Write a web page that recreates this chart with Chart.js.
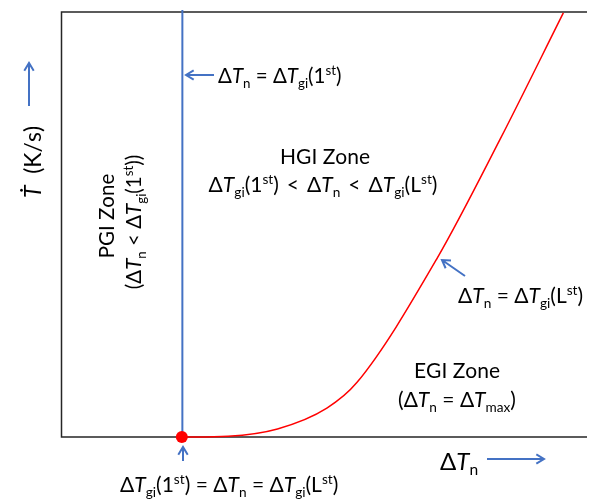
<!DOCTYPE html>
<html>
<head>
<meta charset="utf-8">
<script src="https://cdn.jsdelivr.net/npm/chart.js@4.4.1/dist/chart.umd.min.js"></script>
<style>
  body { margin: 0; background: #fff; }
  canvas { display: block; }
</style>
</head>
<body>
<canvas id="chart" width="593" height="499"></canvas>
<script>
// growth-rate curve (x: undercooling, y: rate, both 0-100)
const curveX = [22.9, 31.7, 41.1, 50.5, 56.2, 71.5, 83.4, 95.5];
const curveY = [0, 0.2, 1.9, 6.8, 12.8, 42.1, 69.9, 99.8];

// vertical threshold line at dT_gi(1st)
const thresholdX = [23.0, 23.0];
const thresholdY = [0, 100.5];

// onset point
const onsetX = [22.9];
const onsetY = [0];

const BLUE = "#4472C4";
const RED = "#FF0000";
const FONT = "Lato";

const toPoints = (xs, ys) => xs.map((x, i) => ({ x: x, y: ys[i] }));

// tiny markup: *italic*, _{sub}, ^{sup}
function parseRich(str) {
    const segs = [];
    let italic = false;
    let i = 0;
    while (i < str.length) {
        const c = str[i];
        if (c === "*") { italic = !italic; i++; continue; }
        if ((c === "_" || c === "^") && str[i + 1] === "{") {
            const end = str.indexOf("}", i);
            segs.push({ t: str.slice(i + 2, end), italic: false, kind: c === "_" ? "sub" : "sup" });
            i = end + 1;
            continue;
        }
        segs.push({ t: c, italic: italic, kind: "n" });
        i++;
    }
    return segs;
}

function segFont(seg, size) {
    const s = seg.kind === "n" ? size : size * 0.65;
    return (seg.italic ? "italic " : "") + s + "px " + FONT;
}

function drawRich(ctx, str, x, y, size, align, angle) {
    const segs = parseRich(str);
    let w = 0;
    segs.forEach((s) => { ctx.font = segFont(s, size); s.w = ctx.measureText(s.t).width; w += s.w; });
    ctx.save();
    ctx.translate(x, y);
    if (angle) ctx.rotate(angle);
    ctx.fillStyle = "#000";
    ctx.textBaseline = "alphabetic";
    ctx.textAlign = "left";
    let cx = align === "center" ? -w / 2 : 0;
    segs.forEach((s) => {
        ctx.font = segFont(s, size);
        let dy = 0;
        if (s.kind === "sub") dy = size * 0.22;
        if (s.kind === "sup") dy = -size * 0.38;
        ctx.fillText(s.t, cx, dy);
        cx += s.w;
    });
    ctx.restore();
}

function arrow(ctx, x1, y1, x2, y2) {
    const a = Math.atan2(y2 - y1, x2 - x1);
    const h = 9;
    ctx.save();
    ctx.strokeStyle = BLUE;
    ctx.lineWidth = 2;
    ctx.beginPath();
    ctx.moveTo(x1, y1);
    ctx.lineTo(x2, y2);
    ctx.moveTo(x2 - h * Math.cos(a - 0.55), y2 - h * Math.sin(a - 0.55));
    ctx.lineTo(x2, y2);
    ctx.lineTo(x2 - h * Math.cos(a + 0.55), y2 - h * Math.sin(a + 0.55));
    ctx.stroke();
    ctx.restore();
}

const framePlugin = {
    id: "frame",
    beforeDatasetsDraw(chart) {
        const { ctx, chartArea: a } = chart;
        ctx.save();
        ctx.strokeStyle = "#262626";
        ctx.lineWidth = 1.5;
        ctx.beginPath();
        ctx.moveTo(a.right, a.top);
        ctx.lineTo(a.left, a.top);
        ctx.lineTo(a.left, a.bottom);
        ctx.lineTo(a.right, a.bottom);
        ctx.stroke();
        ctx.restore();
    },
    afterDraw(chart) {
        const ctx = chart.ctx;
        // arrows
        arrow(ctx, 29, 106, 29, 63);
        arrow(ctx, 214, 75, 186, 75);
        arrow(ctx, 465, 276, 442, 260);
        arrow(ctx, 183, 461, 183, 447);
        arrow(ctx, 487, 459, 544, 459);

        // labels
        drawRich(ctx, "*\u1E6A*  (K/s)", 41, 162, 23, "center", -Math.PI / 2);
        drawRich(ctx, "Δ*T*_{n} = Δ*T*_{gi}(1^{st})", 218, 83, 20.5, "left");
        drawRich(ctx, "HGI Zone", 325, 164, 21, "center");
        drawRich(ctx, "Δ*T*_{gi}(1^{st})\u2009 < \u2009Δ*T*_{n}\u2009 < \u2009Δ*T*_{gi}(L^{st})", 323, 192, 21, "center");
        drawRich(ctx, "PGI Zone", 114, 216, 20.5, "center", -Math.PI / 2);
        drawRich(ctx, "(Δ*T*_{n} < Δ*T*_{gi}(1^{st}))", 141, 222, 20.5, "center", -Math.PI / 2);
        drawRich(ctx, "Δ*T*_{n} = Δ*T*_{gi}(L^{st})", 458, 303, 21, "left");
        drawRich(ctx, "EGI Zone", 457, 378, 21, "center");
        drawRich(ctx, "(Δ*T*_{n} = Δ*T*_{max})", 457, 407, 21, "center");
        drawRich(ctx, "Δ*T*_{gi}(1^{st}) = Δ*T*_{n} = Δ*T*_{gi}(L^{st})", 120, 492, 21, "left");
        drawRich(ctx, "Δ*T*_{n}", 440, 470, 24, "left");
    },
};

new Chart(document.getElementById("chart"), {
    type: "scatter",
    data: {
        datasets: [
            {
                label: "onset",
                data: toPoints(onsetX, onsetY),
                pointRadius: 6,
                pointBackgroundColor: RED,
                pointBorderWidth: 0,
                clip: false,
            },
            {
                label: "threshold",
                data: toPoints(thresholdX, thresholdY),
                showLine: true,
                borderColor: BLUE,
                borderWidth: 2,
                pointRadius: 0,
                clip: false,
            },
            {
                label: "growth rate",
                data: toPoints(curveX, curveY),
                showLine: true,
                borderColor: RED,
                borderWidth: 1.5,
                pointRadius: 0,
                cubicInterpolationMode: "monotone",
                clip: false,
            },
        ],
    },
    options: {
        responsive: false,
        animation: false,
        layout: { padding: { left: 61.5, top: 12, right: 0, bottom: 62 } },
        scales: {
            x: { type: "linear", min: 0, max: 100, display: false },
            y: { type: "linear", min: 0, max: 100, display: false },
        },
        plugins: {
            legend: { display: false },
            tooltip: { enabled: false },
        },
    },
    plugins: [framePlugin],
});
</script>
</body>
</html>
